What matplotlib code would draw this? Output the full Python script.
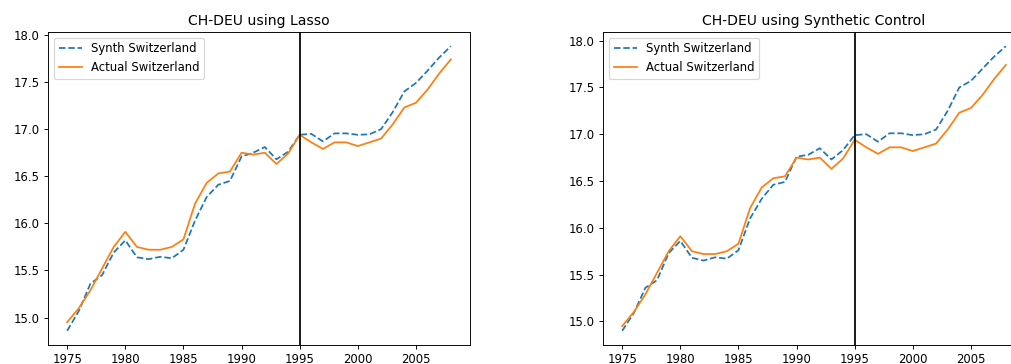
import matplotlib
matplotlib.use("Agg")
import matplotlib.pyplot as plt
import numpy as np

years = np.arange(1975, 2009)

actual_switzerland = [
    14.95, 15.10, 15.29, 15.52, 15.75, 15.91, 15.75, 15.72, 15.72, 15.75,
    15.83, 16.21, 16.43, 16.53, 16.55, 16.75, 16.73, 16.75, 16.63, 16.74,
    16.94, 16.86, 16.79, 16.86, 16.86, 16.82, 16.86, 16.90, 17.05, 17.23,
    17.28, 17.42, 17.59, 17.74,
]

synth_lasso = [
    14.86, 15.07, 15.36, 15.45, 15.69, 15.82, 15.64, 15.62, 15.645, 15.63,
    15.72, 16.03, 16.28, 16.41, 16.45, 16.71, 16.75, 16.81, 16.68, 16.76,
    16.94, 16.95, 16.87, 16.955, 16.955, 16.94, 16.945, 17.00, 17.18, 17.40,
    17.49, 17.62, 17.76, 17.88,
]

synth_sc = [
    14.90, 15.09, 15.36, 15.44, 15.73, 15.86, 15.68, 15.65, 15.685, 15.67,
    15.76, 16.10, 16.31, 16.46, 16.49, 16.76, 16.78, 16.85, 16.73, 16.83,
    16.99, 17.00, 16.92, 17.01, 17.01, 16.99, 17.00, 17.05, 17.25, 17.50,
    17.57, 17.70, 17.83, 17.94,
]

treatment_year = 1995

panels = [
    ("CH-DEU using Lasso", synth_lasso),
    ("CH-DEU using Synthetic Control", synth_sc),
]

DPI = 84
W, H = 1011, 364
fig = plt.figure(figsize=(W / DPI, H / DPI), dpi=DPI)

ax_w = 422 / W
ax_h = 313 / H
ax_bottom = (H - 345) / H
lefts = [48 / W, 603 / W]

for left, (title, synth) in zip(lefts, panels):
    ax = fig.add_axes([left, ax_bottom, ax_w, ax_h])
    ax.plot(years, synth, linestyle="--", color="C0", label="Synth Switzerland")
    ax.plot(years, actual_switzerland, color="C1", label="Actual Switzerland")
    ax.axvline(treatment_year, color="black", linewidth=1.5)
    ax.set_title(title)
    ax.set_xticks([1975, 1980, 1985, 1990, 1995, 2000, 2005])
    ax.set_yticks([15.0, 15.5, 16.0, 16.5, 17.0, 17.5, 18.0])
    ax.legend(loc="upper left")

fig.savefig("out.png", dpi=DPI)
